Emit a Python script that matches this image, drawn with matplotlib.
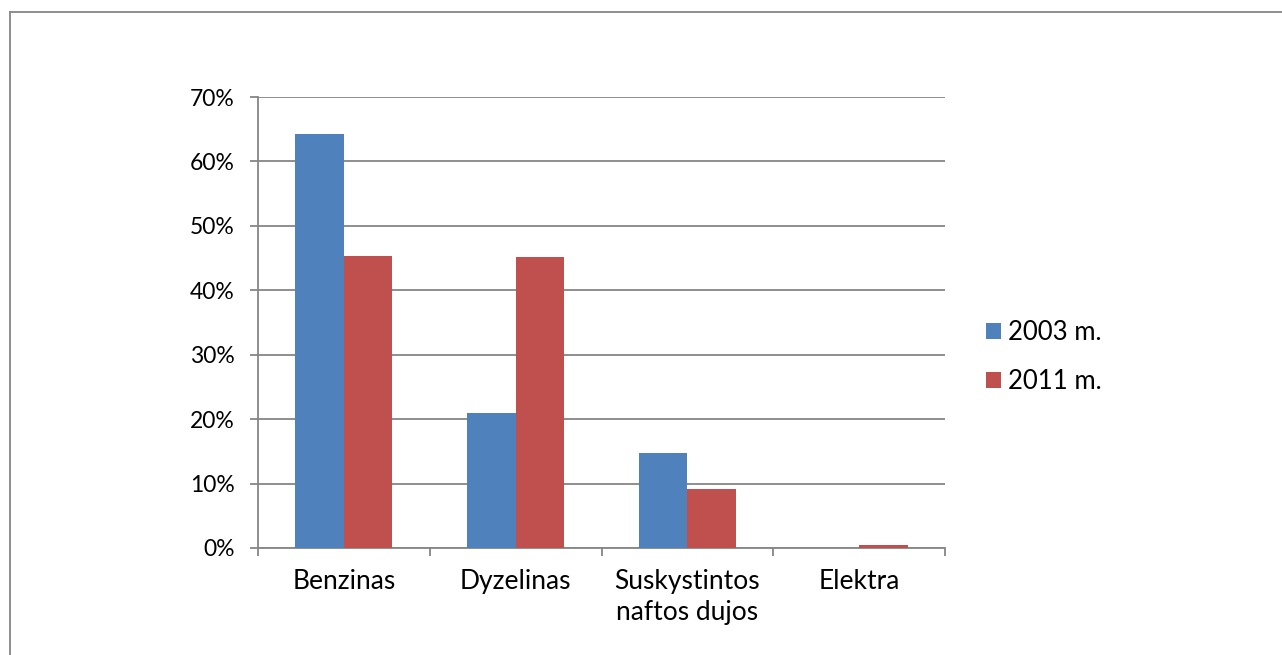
import matplotlib
matplotlib.use("Agg")
import matplotlib.pyplot as plt
from matplotlib.lines import Line2D
import numpy as np

categories = ["Benzinas", "Dyzelinas", "Suskystintos\nnaftos dujos", "Elektra"]
series_names = ["2003 m.", "2011 m."]
values_2003 = [64.3, 21.0, 14.8, 0.0]
values_2011 = [45.3, 45.2, 9.2, 0.5]
yticks = [0, 10, 20, 30, 40, 50, 60, 70]

plt.rcParams['font.family'] = ['Lato', 'DejaVu Sans']

W, H = 1282, 655
fig = plt.figure(figsize=(W / 100, H / 100), dpi=100)
ax = fig.add_axes([258 / W, 1 - 548 / H, (945 - 258) / W, (548 - 97) / H])

x = np.arange(len(categories))
bw = 0.283
ax.bar(x - bw / 2, values_2003, bw, color="#4F81BD", label=series_names[0], zorder=3)
ax.bar(x + bw / 2, values_2011, bw, color="#C0504D", label=series_names[1], zorder=3)

ax.set_xlim(-0.5, len(categories) - 0.5)
ax.set_ylim(0, 70)
ax.set_yticks(yticks)
ax.set_yticklabels([f"{v}%" for v in yticks])
ax.yaxis.grid(True, color="#868686", linewidth=1.3, zorder=0)
ax.set_axisbelow(True)

ax.set_xticks(np.arange(len(categories) + 1) - 0.5, minor=False)
ax.set_xticklabels([])
ax.set_xticks(x, minor=True)
ax.set_xticklabels(categories, minor=True)
ax.tick_params(axis="x", which="major", length=6, color="#868686", width=1.3, direction="out")
ax.tick_params(axis="x", which="minor", length=0, labelsize=19, pad=15)
ax.tick_params(axis="y", length=6, color="#868686", width=1.3, labelsize=16.5, pad=11)

for s in ["top", "right"]:
    ax.spines[s].set_visible(False)
for s in ["left", "bottom"]:
    ax.spines[s].set_color("#868686")
    ax.spines[s].set_linewidth(1.3)

for lab in ax.get_xticklabels(minor=True):
    lab.set_linespacing(1.3)

ax.legend(loc="center left", bbox_to_anchor=(986 / W, 1 - 357 / H), bbox_transform=fig.transFigure,
          frameon=False, fontsize=18.5, handlelength=0.6, handleheight=0.6, handletextpad=0.25,
          labelspacing=0.95, borderaxespad=0, borderpad=0)

# outer chart border
fig.add_artist(Line2D([9.5 / W, 1.0], [1 - 11.5 / H, 1 - 11.5 / H], transform=fig.transFigure,
                      color="#868686", linewidth=1.3))
fig.add_artist(Line2D([9.5 / W, 9.5 / W], [0, 1 - 11.5 / H], transform=fig.transFigure,
                      color="#868686", linewidth=1.3))

fig.savefig("out.png", dpi=100)
